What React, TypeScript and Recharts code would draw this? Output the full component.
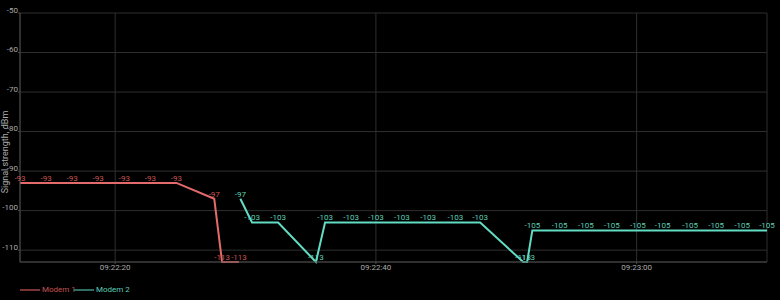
import React from 'react';
import { LineChart, Line, XAxis, YAxis, CartesianGrid, Legend, LabelList, Label } from 'recharts';

// seconds after 09:22:00
const modem1Times = [12.7, 14.7, 16.7, 18.7, 20.7, 22.7, 24.7, 27.6, 28.2, 29.5];
const modem1Values = [-93, -93, -93, -93, -93, -93, -93, -97, -113, -113];

const modem2Times = [
  29.6, 30.5, 32.5, 35.4, 36.1, 38.1, 40.0, 42.0, 44.0, 46.1, 48.0, 51.3,
  51.6, 52.0, 54.1, 56.1, 58.1, 60.1, 62.0, 64.1, 66.1, 68.1, 70.0,
];
const modem2Values = [
  -97, -103, -103, -113, -103, -103, -103, -103, -103, -103, -103, -113,
  -113, -105, -105, -105, -105, -105, -105, -105, -105, -105, -105,
];

const timeTicks = [20, 40, 60];
const dbmTicks = [-110, -100, -90, -80, -70, -60, -50];

const SERIES = [
  { name: 'Modem 1', line: '#e46b6b', label: '#c85454', legend: '#7a3434' },
  { name: 'Modem 2', line: '#62dcc3', label: '#5ccfb7', legend: '#2d6f63' },
];

const BASE_SEC = 9 * 3600 + 22 * 60;
const pad = (n: number) => String(n).padStart(2, '0');
const fmtTime = (t: number) => {
  const s = Math.round(BASE_SEC + t);
  return `${pad(Math.floor(s / 3600))}:${pad(Math.floor((s % 3600) / 60))}:${pad(s % 60)}`;
};

const modem1Data = modem1Times.map((t, i) => ({ t, v: modem1Values[i] }));
const modem2Data = modem2Times.map((t, i) => ({ t, v: modem2Values[i] }));

const renderLegend = () => (
  <div style={{ display: 'flex', alignItems: 'center', height: 20, paddingLeft: 20, fontFamily: 'Roboto', fontSize: 8, lineHeight: '10px' }}>
    {SERIES.map((s) => (
      <div key={s.name} style={{ display: 'flex', alignItems: 'center', marginRight: 1 }}>
        <div style={{ width: 20, height: 2, background: s.legend }} />
        <span style={{ color: s.label, marginLeft: 2, width: 31, whiteSpace: 'nowrap' }}>{s.name}</span>
      </div>
    ))}
  </div>
);

const YTitle = () => {
  const x = 5;
  const y = 152;
  return (
    <text
      x={x}
      y={y}
      transform={`rotate(-90, ${x}, ${y})`}
      textAnchor="middle"
      dominantBaseline="central"
      fill="#aaaaaa"
      fontSize={9}
      fontFamily="Roboto"
    >
      Signal strength, dBm
    </text>
  );
};

export default function App() {
  return (
    <div style={{ position: 'absolute', left: 0, top: 0, width: 780, height: 300, background: '#000' }}>
      <LineChart width={780} height={300} margin={{ top: 13, right: 13, left: 0, bottom: 0 }}>
        <CartesianGrid stroke="#2f2f2f" strokeWidth={1} />
        <XAxis
          type="number"
          dataKey="t"
          domain={['dataMin', 'dataMax']}
          ticks={timeTicks}
          tickFormatter={fmtTime}
          height={18}
          stroke="#4a4a4a"
          tickSize={2}
          tickMargin={0}
          tick={{ fill: '#aaaaaa', fontSize: 8, fontFamily: 'Roboto' }}
        />
        <YAxis
          type="number"
          domain={[-113, -50]}
          ticks={dbmTicks}
          width={20}
          stroke="#4a4a4a"
          tickSize={2}
          tickMargin={0}
          tick={{ fill: '#aaaaaa', fontSize: 8, fontFamily: 'Roboto', dy: -3 }}
        >
          <Label content={<YTitle />} />
        </YAxis>
        <Legend verticalAlign="bottom" align="left" height={20} content={renderLegend} />
        <Line
          data={modem1Data}
          dataKey="v"
          name={SERIES[0].name}
          stroke={SERIES[0].line}
          strokeWidth={2}
          dot={false}
          isAnimationActive={false}
        >
          <LabelList dataKey="v" position="top" offset={2} fill={SERIES[0].label} fontSize={8} fontFamily="Roboto" />
        </Line>
        <Line
          data={modem2Data}
          dataKey="v"
          name={SERIES[1].name}
          stroke={SERIES[1].line}
          strokeWidth={2}
          dot={false}
          isAnimationActive={false}
        >
          <LabelList dataKey="v" position="top" offset={2} fill={SERIES[1].label} fontSize={8} fontFamily="Roboto" />
        </Line>
      </LineChart>
    </div>
  );
}
